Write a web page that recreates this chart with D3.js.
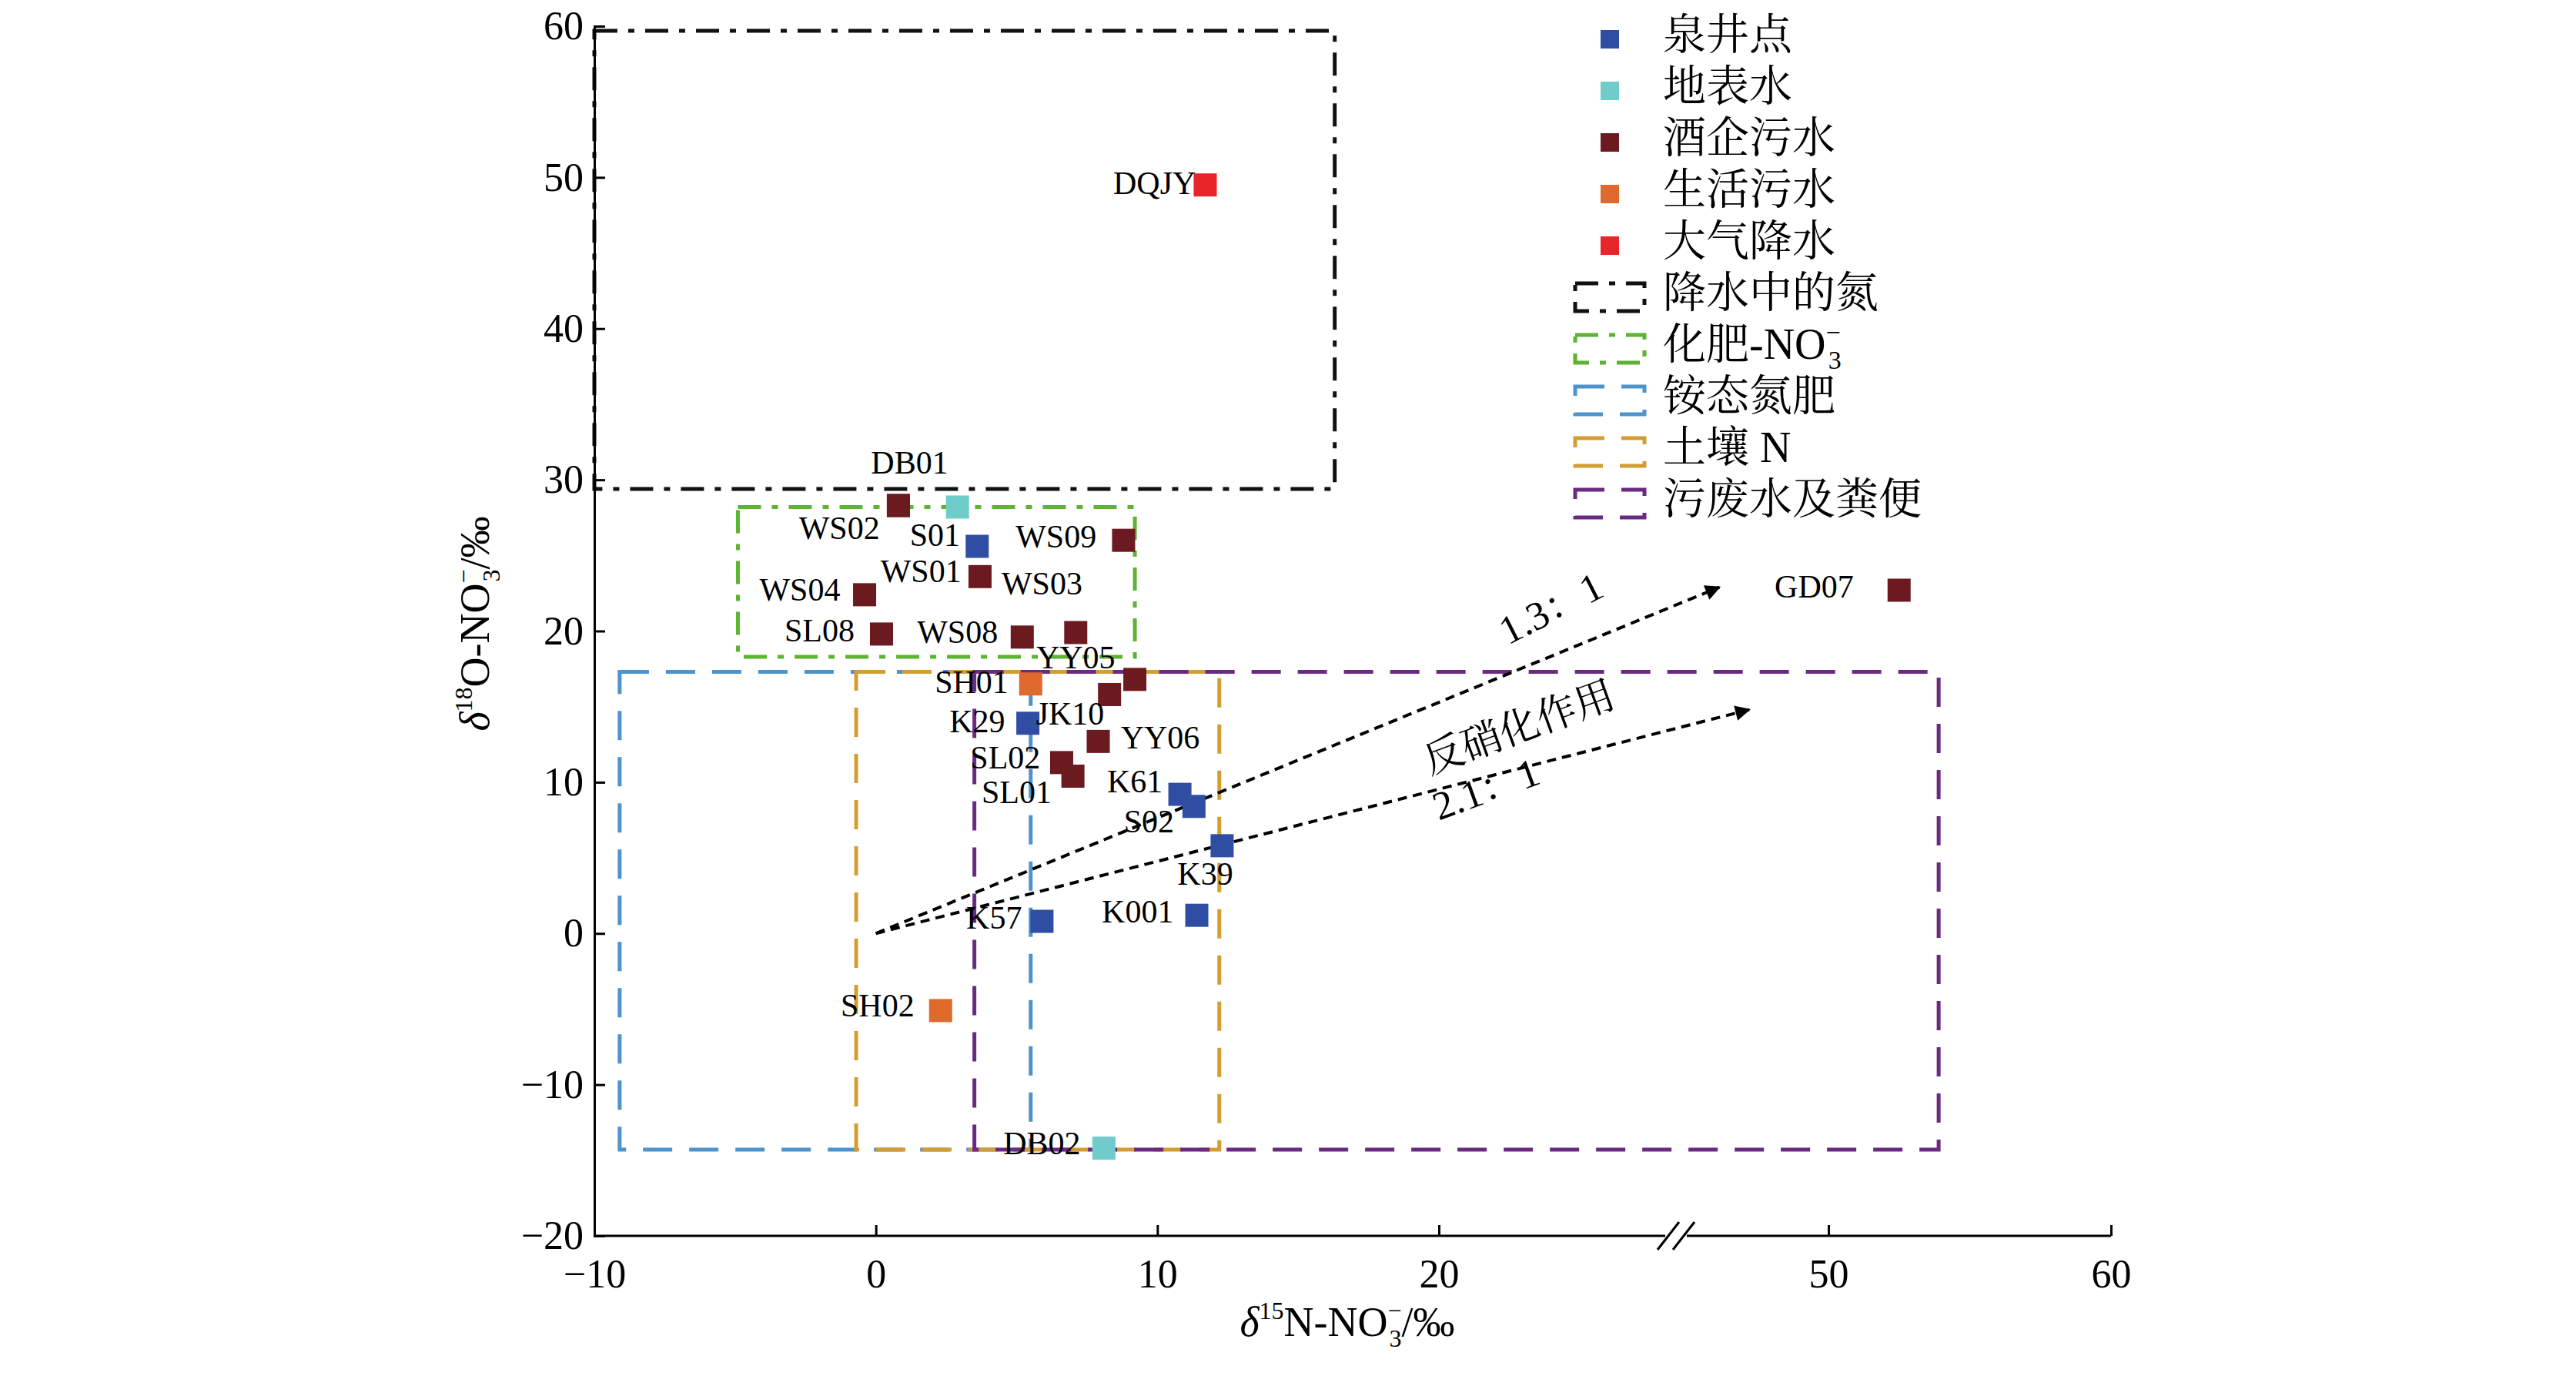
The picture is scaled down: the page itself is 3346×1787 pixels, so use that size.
<!DOCTYPE html>
<html><head><meta charset="utf-8">
<script src="https://cdn.jsdelivr.net/npm/d3@7"></script>
<style>body{margin:0;background:#fff}</style>
</head><body><svg id="c" width="3346" height="1787"></svg>
<script>
// sample points
var names = ["DQJY","DB01","S01x","WS02","S01","WS09","WS01","WS04","SL08","WS08","WS03","SH01","YY05","YY05b","K29","YY06","SL02","SL01","K61","S02","K39","K001","K57","SH02","DB02","GD07"];
var xs = [11.7,0.8,2.9,0.8,3.6,8.8,3.7,-0.4,0.2,5.2,7.1,5.5,9.2,8.3,5.4,7.9,6.6,7.0,10.8,11.3,12.3,11.4,5.9,2.3,8.1,52.5];
var ys = [49.5,28.3,28.2,28.3,25.6,26.0,23.6,22.4,19.8,19.6,19.9,16.5,16.8,15.8,13.9,12.7,11.3,10.4,9.2,8.4,5.8,1.2,0.8,-5.1,-14.2,22.7];
var types = [4,2,1,2,0,2,2,2,2,2,2,3,2,2,0,2,2,2,0,0,0,0,0,3,1,2];
// point labels (text, x, y in data units)
var labText = ["DQJY","DB01","WS02","S01","WS09","WS01","WS03","WS04","SL08","WS08","YY05","SH01","K29","JK10","YY06","SL02","SL01","K61","S02","K39","K001","K57","SH02","DB02","GD07"];
var labX = [9.9,1.2,-1.3,2.1,6.4,1.6,5.9,-2.7,-2.0,2.9,7.1,3.4,3.6,6.9,10.1,4.6,5.0,9.2,9.7,11.7,9.3,4.2,0.06,5.9,48.9];
var labY = [49.4,30.9,26.6,26.1,26.0,23.7,22.9,22.5,19.8,19.7,18.0,16.4,13.8,14.3,12.7,11.4,9.1,9.8,7.2,3.7,1.2,0.8,-5.0,-14.1,22.7];
// legend
var typeNames = ["泉井点","地表水","酒企污水","生活污水","大气降水"];
var typeColors = ["#2f4da3","#6fcccb","#6b1a20","#e0692e","#e8262a"];
var boxNames = ["降水中的氮","化肥-NO","铵态氮肥","土壤 N","污废水及粪便"];
var boxColors = ["#111","#5cb430","#4d93cc","#d39d32","#6a2a82"];
var boxX0 = [-10,-4.9,-9.1,-0.7,3.5];
var boxX1 = [16.3,9.2,5.5,12.2,53.9];
var boxY0 = [29.4,18.3,-14.3,-14.3,-14.3];
var boxY1 = [59.7,28.2,17.3,17.3,17.3];
var boxDash = ["30,14,8,14","30,14,8,14","38,22","38,22","38,22"];
// denitrification arrows
var arrowEnd = [[41.6,22.9],[43.9,14.8]];
var xTicks = [-10,0,10,20,50,60];
var yTicks = [-20,-10,0,10,20,30,40,50,60];

var svg = d3.select("#c");
var serif = "'Liberation Serif','Times New Roman',serif";
var cjk = "'Liberation Serif','Noto Serif CJK SC','Noto Sans CJK SC',serif";
var x = d3.scaleLinear().domain([-10,20,50,60]).range([772,1869,2375,2742]);
var y = d3.scaleLinear().domain([-20,60]).range([1605,34]);

// boxes
boxNames.forEach(function(n,i){
  svg.append("rect").attr("x",x(boxX0[i])).attr("y",y(boxY1[i]))
    .attr("width",x(boxX1[i])-x(boxX0[i])).attr("height",y(boxY0[i])-y(boxY1[i]))
    .attr("fill","none").attr("stroke",boxColors[i]).attr("stroke-width",5)
    .attr("stroke-dasharray",boxDash[i]);
});

// axes
var xa = svg.append("g").attr("transform","translate(0,"+y(-20)+")")
  .call(d3.axisBottom(x).tickValues(xTicks).tickSize(-14).tickPadding(30).tickFormat(function(d){return d<0?"\u2212"+(-d):d;}));
var ya = svg.append("g").attr("transform","translate("+x(-10)+",0)")
  .call(d3.axisLeft(y).tickValues(yTicks).tickSize(-14).tickPadding(14).tickFormat(function(d){return d<0?"\u2212"+(-d):d;}));
[xa,ya].forEach(function(a){
  a.selectAll("path,line").attr("stroke","#000").attr("stroke-width",3);
  a.selectAll("text").attr("font-family",serif).attr("font-size",52).attr("fill","#000");
});
xa.select(".domain").attr("d","M772,0H2742");
// axis break
var bx = 2177;
svg.append("rect").attr("x",bx-14).attr("y",y(-20)-20).attr("width",28).attr("height",40).attr("fill","#fff");
[-10,10].forEach(function(o){
  svg.append("line").attr("x1",bx+o-14).attr("y1",y(-20)+18).attr("x2",bx+o+14).attr("y2",y(-20)-18)
    .attr("stroke","#000").attr("stroke-width",3);
});

// arrows
svg.append("defs").append("marker").attr("id","ah").attr("viewBox","0 0 10 10").attr("refX",9).attr("refY",5)
  .attr("markerWidth",7).attr("markerHeight",5).attr("orient","auto")
  .append("path").attr("d","M0,0L10,5L0,10z").attr("fill","#000");
arrowEnd.forEach(function(e){
  svg.append("line").attr("x1",x(0)).attr("y1",y(0)).attr("x2",x(e[0])).attr("y2",y(e[1]))
    .attr("stroke","#000").attr("stroke-width",4).attr("stroke-dasharray","12,8").attr("marker-end","url(#ah)");
});
function rotText(t,px,py,ang){
  svg.append("text").attr("transform","translate("+px+","+py+") rotate("+ang+")")
    .attr("text-anchor","middle").attr("dominant-baseline","middle")
    .attr("font-family",cjk).attr("font-size",52).text(t);
}
rotText("1.3\uff1a1",2017,795,-27);
rotText("反硝化作用",1975,950,-20);
rotText("2.1\uff1a1",1932,1030,-20);

// points
var ms = 30;
svg.selectAll("rect.pt").data(xs).enter().append("rect").attr("class","pt")
  .attr("x",function(d){return x(d)-ms/2;}).attr("y",function(d,i){return y(ys[i])-ms/2;})
  .attr("width",ms).attr("height",ms).attr("fill",function(d,i){return typeColors[types[i]];});
svg.selectAll("text.lab").data(labText).enter().append("text").attr("class","lab")
  .attr("x",function(d,i){return x(labX[i]);}).attr("y",function(d,i){return y(labY[i]);})
  .attr("text-anchor","middle").attr("dominant-baseline","middle")
  .attr("font-family",serif).attr("font-size",42).text(function(d){return d;});

// legend
var lx = 2091, ly0 = 51, ldy = 67;
typeNames.forEach(function(n,i){
  svg.append("rect").attr("x",lx-12).attr("y",ly0+i*ldy-12).attr("width",24).attr("height",24).attr("fill",typeColors[i]);
  svg.append("text").attr("x",2160).attr("y",ly0+i*ldy).attr("dominant-baseline","middle")
    .attr("font-family",cjk).attr("font-size",56).text(n);
});
boxNames.forEach(function(n,j){
  var yy = ly0+(j+5)*ldy;
  svg.append("rect").attr("x",2046).attr("y",yy-18).attr("width",90).attr("height",36)
    .attr("fill","none").attr("stroke",boxColors[j]).attr("stroke-width",5).attr("stroke-dasharray",boxDash[j]);
  var t = svg.append("text").attr("x",2160).attr("y",yy).attr("dominant-baseline","middle")
    .attr("font-family",cjk).attr("font-size",56).text(n);
  if(j==1){
    t.append("tspan").attr("font-size",34).attr("dy",-18).text("\u2212");
    t.append("tspan").attr("font-size",34).attr("dx",-16).attr("dy",36).text("3");
  }
});

// axis titles
var xt = svg.append("text").attr("x",1750).attr("y",1735).attr("text-anchor","middle")
  .attr("font-family",serif).attr("font-size",54);
xt.append("tspan").attr("font-style","italic").text("δ");
xt.append("tspan").attr("font-size",32).attr("dy",-22).text("15");
xt.append("tspan").attr("dy",22).text("N-NO");
xt.append("tspan").attr("font-size",32).attr("dy",-22).text("\u2212");
xt.append("tspan").attr("font-size",32).attr("dx",-16).attr("dy",36).text("3");
xt.append("tspan").attr("dy",-14).text("/‰");
var yt = svg.append("text").attr("transform","translate(635,810) rotate(-90)").attr("text-anchor","middle")
  .attr("font-family",serif).attr("font-size",54);
yt.append("tspan").attr("font-style","italic").text("δ");
yt.append("tspan").attr("font-size",32).attr("dy",-22).text("18");
yt.append("tspan").attr("dy",22).text("O-NO");
yt.append("tspan").attr("font-size",32).attr("dy",-22).text("\u2212");
yt.append("tspan").attr("font-size",32).attr("dx",-16).attr("dy",36).text("3");
yt.append("tspan").attr("dy",-14).text("/‰");
</script></body></html>
